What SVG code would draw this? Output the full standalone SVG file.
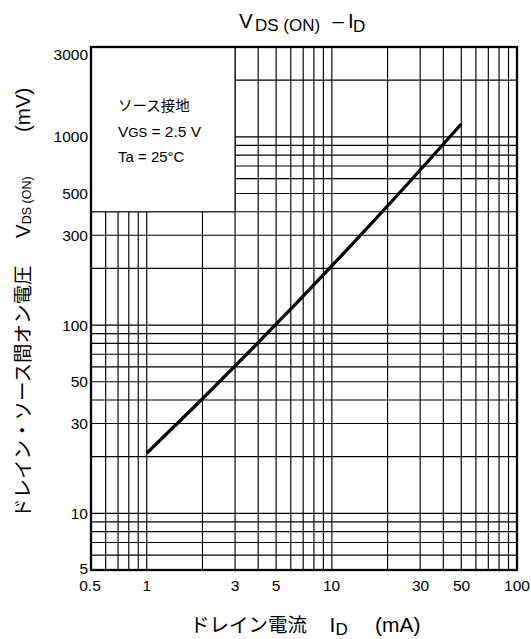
<svg xmlns="http://www.w3.org/2000/svg" width="531" height="639" viewBox="0 0 531 639">
<style>
.t{font-family:"Liberation Sans",Arial,sans-serif;fill:#000}
.j{font-family:"Noto Sans CJK JP","Noto Sans CJK SC",sans-serif;fill:#000}
.tick{font-size:15.5px}
.xt{text-anchor:middle}
.yt{text-anchor:end}
.grid{fill:none;stroke:#000;stroke-width:1.15}
.frame{fill:none;stroke:#000;stroke-width:2.3}
.curve{fill:none;stroke:#000;stroke-width:3.3}
</style>
<rect width="531" height="639" fill="#fff"/>
<g id="title">
<text class="t" font-size="20.5"><tspan x="239" y="27.5">V</tspan><tspan x="255" y="31" font-size="17">DS (ON)</tspan><tspan x="332.5" y="27.5">–</tspan><tspan x="348" y="27.5">I</tspan><tspan x="353" y="31.5" font-size="17">D</tspan></text>
</g>
<g id="grid">
<path class="grid" d="M105.66 47V570M118.05 47V570M128.79 47V570M138.26 47V570M146.73 47V570M202.46 47V570M235.06 47V570M258.19 47V570M276.13 47V570M290.79 47V570M303.18 47V570M313.92 47V570M323.39 47V570M331.86 47V570M387.59 47V570M420.19 47V570M443.32 47V570M461.26 47V570M475.92 47V570M488.31 47V570M499.05 47V570M508.52 47V570"/>
<path class="grid" d="M91 555.09H517M91 542.49H517M91 531.57H517M91 521.94H517M91 513.33H517M91 456.66H517M91 423.51H517M91 399.99H517M91 381.74H517M91 366.84H517M91 354.24H517M91 343.32H517M91 333.69H517M91 325.08H517M91 268.4H517M91 235.25H517M91 211.73H517M91 193.49H517M91 178.58H517M91 165.98H517M91 155.06H517M91 145.43H517M91 136.82H517M91 80.15H517"/>
</g>
<g id="legend-box">
<rect x="91" y="47" width="144.06" height="164.73" fill="#fff" stroke="none"/>
<path class="grid" d="M91 211.73H235.06V47"/>
<text class="j" x="118" y="110.5" font-size="14.5">ソース接地</text>
<text class="t" font-size="15.5"><tspan x="118" y="136.5">V</tspan><tspan font-size="13" dy="0.5">GS</tspan><tspan dy="-0.5"> = 2.5 V</tspan></text>
<text class="t" x="118" y="161.5" font-size="15">Ta = 25°C</text>
</g>
<g id="frame">
<rect class="frame" x="91" y="47" width="426" height="523"/>
</g>
<g id="connectors">
<path id="curve" class="curve" d="M146.73 453.3Q303.85 302.04 461.26 124"/>
</g>
<g id="y-ticks" class="t tick yt">
<text x="88" y="59.5">3000</text>
<text x="88" y="142.3">1000</text>
<text x="88" y="199">500</text>
<text x="88" y="240.7">300</text>
<text x="88" y="330.6">100</text>
<text x="88" y="387.2">50</text>
<text x="88" y="429">30</text>
<text x="88" y="518.8">10</text>
<text x="88" y="574">5</text>
</g>
<g id="x-ticks" class="t tick xt">
<text x="90" y="591">0.5</text>
<text x="146.7" y="591">1</text>
<text x="235" y="591">3</text>
<text x="276.1" y="591">5</text>
<text x="331.5" y="591">10</text>
<text x="420.5" y="591">30</text>
<text x="461.5" y="591">50</text>
<text x="517" y="591">100</text>
</g>
<g id="x-label">
<text class="j" x="190" y="631.5" font-size="19.5">ドレイン電流</text>
<text class="t" font-size="21"><tspan x="329.5" y="631.5">I</tspan><tspan x="335.5" y="635" font-size="17">D</tspan><tspan x="375" y="631.5">(mA)</tspan></text>
</g>
<g id="y-label" transform="translate(30,518) rotate(-90)">
<text class="j" x="0" y="0" font-size="19.5">ドレイン・ソース間オン電圧</text>
<text class="t" font-size="20.5"><tspan x="280" y="0">V</tspan><tspan font-size="12.5" dy="1">DS (ON)</tspan><tspan x="386" y="0">(mV)</tspan></text>
</g>
</svg>
